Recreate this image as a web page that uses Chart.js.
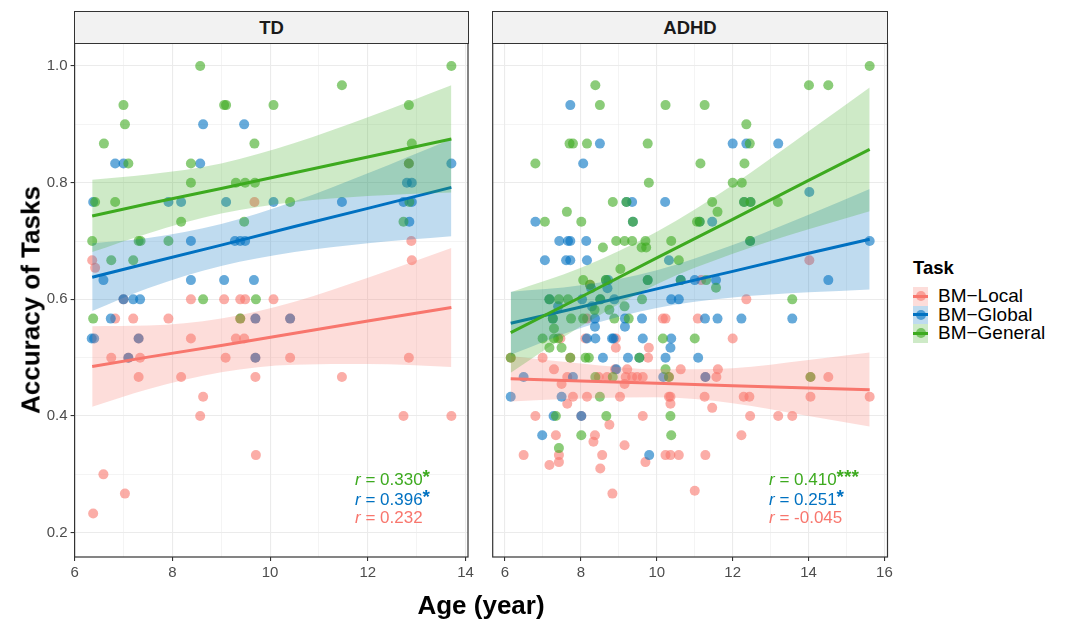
<!DOCTYPE html>
<html>
<head>
<meta charset="utf-8">
<script src="https://cdn.jsdelivr.net/npm/chart.js@4.4.1/dist/chart.umd.min.js"></script>
<style>
  body { margin: 0; width: 1065px; height: 622px; background: #fff; position: relative; overflow: hidden;
         font-family: "Liberation Sans", Arial, sans-serif; }
  canvas { position: absolute; top: 0; }
  .strip { position: absolute; top: 11px; height: 33px; background: #F2F2F2; border: 1px solid #333;
           box-sizing: border-box; text-align: center; font-weight: bold; font-size: 18.5px; line-height: 31px; color: #1A1A1A; }
  .ann { position: absolute; font-size: 17px; line-height: 19.5px; white-space: nowrap; }
  .ann span.st { position: relative; top: -2px; font-size: 19px; font-weight: bold; }
  .title { position: absolute; font-weight: bold; font-size: 26px; color: #000; white-space: nowrap; }
  .legend { position: absolute; left: 913px; top: 257px; }
  .legend .head { font-weight: bold; font-size: 18.5px; margin-bottom: 8px; }
  .legend .row { position: relative; height: 18.5px; }
  .legend .key { position: absolute; left: 0; top: 0; width: 15px; height: 18.5px; }
  .legend .key i { position: absolute; left: 0; right: 0; top: 7.75px; height: 3px; }
  .legend .key b { position: absolute; left: 2.5px; top: 4.25px; width: 10px; height: 10px; border-radius: 50%; }
  .legend .lab { position: absolute; left: 25px; top: -2px; font-size: 19px; line-height: 22px; white-space: nowrap; }
</style>
</head>
<body>
<canvas id="tdChart" width="480" height="622" style="left:0"></canvas>
<canvas id="adhdChart" width="418" height="622" style="left:482px"></canvas>

<div class="strip" style="left:74px;width:395px">TD</div>
<div class="strip" style="left:492px;width:396px">ADHD</div>

<div class="ann" style="left:355px;top:469px;color:#3DAA1F"><i>r</i> = 0.330<span class="st">*</span></div>
<div class="ann" style="left:355px;top:488.5px;color:#0071C1"><i>r</i> = 0.396<span class="st">*</span></div>
<div class="ann" style="left:355px;top:508px;color:#F8766D"><i>r</i> = 0.232</div>
<div class="ann" style="left:769px;top:469px;color:#3DAA1F"><i>r</i> = 0.410<span class="st">***</span></div>
<div class="ann" style="left:769px;top:488.5px;color:#0071C1"><i>r</i> = 0.251<span class="st">*</span></div>
<div class="ann" style="left:769px;top:508px;color:#F8766D"><i>r</i> = -0.045</div>

<div class="title" style="left:481px;top:605px;transform:translate(-50%,-50%)">Age (year)</div>
<div class="title" style="left:31px;top:300px;transform:translate(-50%,-50%) rotate(-90deg)">Accuracy of Tasks</div>

<div class="legend" id="legend"><div class="head">Task</div></div>

<script>
// ---- data ----
const taskNames = ['BM\u2212Local', 'BM\u2212Global', 'BM\u2212General'];
const xTicksTD = [6, 7, 8, 9, 10, 11, 12, 13, 14];
const xTicksADHD = [6, 7, 8, 9, 10, 11, 12, 13, 14, 15, 16];
const yTicks = [0.2, 0.3, 0.4, 0.5, 0.6, 0.7, 0.8, 0.9, 1.0];

// TD scatter [age, accuracy]
const tdLocal = [[6.36,0.667],[6.42,0.654],[7.0,0.6],[8.38,0.6],[9.06,0.6],[9.39,0.6],[9.49,0.6],[10.07,0.6],
  [6.83,0.567],[7.2,0.567],[7.92,0.567],[9.39,0.567],[9.7,0.567],[10.41,0.567],[7.31,0.533],[8.38,0.533],
  [9.3,0.533],[9.47,0.533],[6.75,0.5],[7.1,0.5],[7.34,0.5],[9.09,0.5],[9.7,0.5],[10.41,0.5],[12.84,0.5],
  [7.31,0.467],[8.18,0.467],[9.7,0.467],[11.47,0.467],[8.63,0.433],[8.57,0.4],[12.73,0.4],[13.71,0.4],
  [9.71,0.333],[6.59,0.3],[7.03,0.267],[6.38,0.233],[9.68,0.767],[12.84,0.833],[12.89,0.7],[12.9,0.667]];
const tdGlobal = [[8.63,0.9],[9.47,0.9],[6.83,0.833],[7.0,0.833],[8.57,0.833],[13.71,0.833],[12.8,0.8],[12.9,0.8],
  [6.38,0.767],[7.92,0.767],[8.18,0.767],[9.1,0.767],[10.07,0.767],[11.47,0.767],[12.73,0.767],[12.9,0.767],
  [12.85,0.733],[8.38,0.7],[9.28,0.7],[9.39,0.7],[9.49,0.7],[6.59,0.633],[8.38,0.633],[9.06,0.633],[9.67,0.633],
  [7.0,0.6],[7.2,0.6],[7.34,0.6],[6.74,0.567],[9.7,0.567],[10.41,0.567],[6.35,0.533],[6.4,0.533],[7.31,0.533],
  [7.1,0.5],[9.7,0.5]];
const tdGeneral = [[8.57,1.0],[13.71,1.0],[11.47,0.967],[7.0,0.933],[9.06,0.933],[9.1,0.933],[10.07,0.933],[12.84,0.933],
  [7.03,0.9],[6.6,0.867],[9.68,0.867],[12.9,0.867],[7.1,0.833],[8.38,0.833],[12.84,0.833],[8.38,0.8],[9.3,0.8],
  [9.49,0.8],[9.69,0.8],[6.42,0.767],[6.83,0.767],[10.41,0.767],[12.85,0.767],[8.18,0.733],[9.47,0.733],[12.73,0.733],
  [6.36,0.7],[7.31,0.7],[7.35,0.7],[7.92,0.7],[6.75,0.667],[7.2,0.667],[8.63,0.6],[9.71,0.6],[6.38,0.567],[9.39,0.567]];

// TD fits and 95% bands
const tdBandX = [6.36, 7.5, 9, 10.5, 12, 13.71];
const tdLocalFit = [0.485, 0.501, 0.521, 0.542, 0.563, 0.586];
const tdLocalLo = [0.416, 0.446, 0.475, 0.488, 0.489, 0.484];
const tdLocalHi = [0.554, 0.555, 0.567, 0.596, 0.637, 0.688];
const tdGlobalFit = [0.638, 0.662, 0.693, 0.725, 0.756, 0.792];
const tdGlobalLo = [0.580, 0.619, 0.657, 0.681, 0.696, 0.708];
const tdGlobalHi = [0.696, 0.705, 0.729, 0.768, 0.816, 0.875];
const tdGeneralFit = [0.743, 0.764, 0.790, 0.817, 0.844, 0.875];
const tdGeneralLo = [0.681, 0.713, 0.747, 0.767, 0.777, 0.783];
const tdGeneralHi = [0.805, 0.814, 0.833, 0.868, 0.912, 0.967];

// ADHD scatter [age, accuracy]
const adhdLocal = [[14.02,0.667],[11.17,0.633],[8.24,0.625],[12.36,0.6],[8.16,0.567],[10.16,0.567],[10.23,0.567],
  [11.08,0.567],[7.46,0.533],[8.12,0.533],[8.92,0.533],[12.0,0.533],[8.92,0.517],[9.79,0.517],[6.99,0.5],[9.77,0.5],
  [6.15,0.5],[7.72,0.5],[7.29,0.48],[8.9,0.48],[9.22,0.48],[10.63,0.48],[11.61,0.48],[7.64,0.467],[8.47,0.467],
  [8.69,0.467],[9.18,0.467],[9.35,0.467],[9.48,0.467],[9.63,0.467],[10.32,0.467],[11.28,0.467],[11.57,0.467],
  [14.05,0.467],[14.52,0.467],[7.49,0.455],[9.15,0.455],[7.79,0.433],[8.16,0.433],[9.03,0.433],[10.32,0.433],
  [10.36,0.433],[11.26,0.433],[12.29,0.433],[12.44,0.433],[14.05,0.433],[15.61,0.433],[7.64,0.421],[10.36,0.421],
  [11.46,0.414],[6.8,0.4],[8.01,0.4],[9.63,0.4],[12.46,0.4],[13.2,0.4],[13.57,0.4],[8.75,0.385],[7.34,0.367],
  [8.37,0.367],[12.23,0.367],[8.33,0.356],[9.15,0.35],[6.49,0.333],[7.42,0.333],[8.56,0.333],[10.23,0.333],
  [10.36,0.333],[10.58,0.333],[11.28,0.333],[7.42,0.321],[9.7,0.321],[7.17,0.316],[8.51,0.31],[11.0,0.272],[8.83,0.267]];
const adhdGlobal = [[7.72,0.933],[8.5,0.867],[12.0,0.867],[12.36,0.867],[13.2,0.867],[8.06,0.833],[14.02,0.784],
  [9.2,0.767],[9.35,0.767],[10.22,0.767],[12.3,0.767],[12.47,0.767],[6.8,0.733],[9.37,0.733],[11.13,0.733],
  [11.46,0.733],[7.43,0.7],[7.66,0.7],[7.72,0.7],[8.14,0.7],[12.46,0.7],[15.61,0.7],[7.05,0.667],[7.61,0.667],
  [7.72,0.667],[8.16,0.667],[10.32,0.667],[8.66,0.633],[8.72,0.633],[9.76,0.633],[10.63,0.633],[11.0,0.633],
  [11.56,0.633],[14.52,0.633],[8.27,0.619],[8.7,0.619],[7.17,0.6],[8.03,0.6],[8.51,0.6],[8.88,0.6],[10.38,0.6],
  [10.58,0.6],[7.4,0.588],[8.29,0.588],[7.26,0.567],[8.37,0.567],[9.16,0.567],[9.61,0.567],[11.27,0.567],
  [11.6,0.567],[12.23,0.567],[13.57,0.567],[8.37,0.553],[9.16,0.553],[8.16,0.533],[8.38,0.533],[8.82,0.533],
  [8.86,0.533],[9.63,0.533],[10.38,0.533],[10.36,0.517],[8.58,0.5],[9.24,0.5],[9.54,0.5],[10.23,0.5],[11.09,0.5],
  [8.93,0.48],[6.49,0.467],[7.79,0.467],[10.17,0.467],[11.28,0.467],[6.15,0.433],[7.49,0.433],[7.28,0.4],
  [8.01,0.4],[6.98,0.367],[9.8,0.333]];
const adhdGeneral = [[15.61,1.0],[8.38,0.967],[14.01,0.967],[14.52,0.967],[8.5,0.933],[10.23,0.933],[11.26,0.933],
  [12.36,0.9],[7.7,0.867],[7.79,0.867],[8.16,0.867],[9.76,0.867],[12.45,0.867],[6.8,0.833],[11.15,0.833],
  [12.31,0.833],[9.79,0.8],[12.0,0.8],[12.24,0.8],[8.84,0.767],[9.2,0.767],[11.46,0.767],[12.3,0.767],[12.47,0.767],
  [13.19,0.767],[7.63,0.75],[11.6,0.75],[7.05,0.733],[8.01,0.733],[9.37,0.733],[11.06,0.733],[11.13,0.733],
  [8.93,0.7],[9.15,0.7],[9.35,0.7],[9.7,0.7],[10.38,0.7],[12.46,0.7],[8.58,0.689],[9.6,0.689],[9.72,0.689],
  [10.58,0.667],[9.04,0.652],[8.06,0.633],[8.66,0.633],[9.76,0.633],[10.63,0.633],[11.3,0.633],[8.24,0.625],
  [11.56,0.62],[7.17,0.6],[7.42,0.6],[7.66,0.6],[8.51,0.6],[9.61,0.6],[13.57,0.6],[9.15,0.588],[8.36,0.582],
  [8.75,0.582],[7.26,0.567],[7.74,0.567],[8.06,0.567],[8.88,0.567],[9.26,0.567],[7.29,0.55],[6.99,0.533],
  [7.29,0.533],[7.4,0.533],[10.16,0.533],[11.0,0.533],[7.17,0.517],[7.49,0.517],[6.15,0.5],[7.72,0.5],[8.12,0.5],
  [8.21,0.5],[9.54,0.5],[10.23,0.48],[8.38,0.467],[8.84,0.467],[10.32,0.467],[14.05,0.467],[8.5,0.433],[7.34,0.4],
  [8.67,0.4],[10.36,0.4],[8.01,0.367],[10.38,0.367],[7.42,0.345]];

// ADHD fits and 95% bands
const adhdBandX = [6.15, 8, 10, 12, 14, 15.61];
const adhdLocalFit = [0.464, 0.460, 0.456, 0.452, 0.448, 0.445];
const adhdLocalLo = [0.425, 0.430, 0.432, 0.422, 0.400, 0.382];
const adhdLocalHi = [0.503, 0.490, 0.480, 0.482, 0.496, 0.509];
const adhdGlobalFit = [0.559, 0.587, 0.618, 0.648, 0.679, 0.703];
const adhdGlobalLo = [0.505, 0.551, 0.585, 0.603, 0.612, 0.617];
const adhdGlobalHi = [0.613, 0.624, 0.650, 0.693, 0.745, 0.789];
const adhdGeneralFit = [0.543, 0.604, 0.671, 0.737, 0.804, 0.857];
const adhdGeneralLo = [0.474, 0.554, 0.626, 0.678, 0.720, 0.751];
const adhdGeneralHi = [0.612, 0.654, 0.716, 0.796, 0.888, 0.963];

// ---- styling ----
const FONT = '"Liberation Sans", Arial, sans-serif';
const taskColors = ['#F8766D', '#0071C1', '#3DAA1F'];

function rgba(hex, a) {
  const n = parseInt(hex.slice(1), 16);
  return `rgba(${n >> 16},${(n >> 8) & 255},${n & 255},${a})`;
}
const toXY = arr => arr.map(p => ({ x: p[0], y: p[1] }));
const alongX = (xs, ys) => xs.map((x, i) => ({ x, y: ys[i] }));

function buildDatasets(points, bandX, fits) {
  const ds = [];
  points.forEach((pts, i) => {
    ds.push({ type: 'scatter', data: toXY(pts), backgroundColor: rgba(taskColors[i], 0.6),
      borderWidth: 0, pointRadius: 5, pointHoverRadius: 5, order: 102 - i });
  });
  fits.forEach((f, i) => {
    const base = 12 - i * 3;
    ds.push({ type: 'line', data: alongX(bandX, f.hi), fill: '+1', backgroundColor: rgba(taskColors[i], 0.25),
      borderWidth: 0, pointRadius: 0, cubicInterpolationMode: 'monotone', order: base });
    ds.push({ type: 'line', data: alongX(bandX, f.lo), fill: false, borderWidth: 0, pointRadius: 0,
      cubicInterpolationMode: 'monotone', order: base });
    ds.push({ type: 'line', data: alongX(bandX, f.fit), fill: false, borderColor: taskColors[i], borderWidth: 3,
      pointRadius: 0, order: base - 1 });
  });
  return ds;
}

const panelBorder = {
  id: 'panelBorder',
  afterDraw(chart) {
    const { ctx, chartArea: a } = chart;
    ctx.save();
    ctx.strokeStyle = '#333';
    ctx.lineWidth = 1.2;
    ctx.strokeRect(a.left, a.top, a.right - a.left, a.bottom - a.top);
    ctx.restore();
  }
};

const isMajorX = v => Math.round(v) % 2 === 0;
const isMajorY = v => Math.round(v * 10) % 2 === 0;

function makeOptions(xmin, xmax, xticks, showY, padding) {
  return {
    responsive: false, animation: false, devicePixelRatio: 1,
    layout: { padding },
    plugins: { legend: { display: false }, tooltip: { enabled: false } },
    scales: {
      x: {
        type: 'linear', min: xmin, max: xmax,
        afterBuildTicks: s => { s.ticks = xticks.map(v => ({ value: v })); },
        afterFit: s => { s.height = 65; },
        border: { display: false },
        grid: {
          color: '#EBEBEB', tickLength: 4,
          lineWidth: c => (c.tick && isMajorX(c.tick.value)) ? 1.1 : 0.55,
          tickColor: c => (c.tick && isMajorX(c.tick.value)) ? '#333' : 'rgba(0,0,0,0)'
        },
        ticks: { color: '#4D4D4D', font: { family: FONT, size: 15 }, padding: 3, autoSkip: false, maxRotation: 0,
          callback: v => isMajorX(v) ? String(v) : '' }
      },
      y: {
        type: 'linear', min: 0.1583, max: 1.0395,
        afterBuildTicks: s => { s.ticks = yTicks.map(v => ({ value: v })); },
        afterFit: s => { s.width = showY ? 74.6 : 0; },
        border: { display: false },
        grid: {
          color: '#EBEBEB', tickLength: 4, drawTicks: showY,
          lineWidth: c => (c.tick && isMajorY(c.tick.value)) ? 1.1 : 0.55,
          tickColor: c => (c.tick && isMajorY(c.tick.value)) ? '#333' : 'rgba(0,0,0,0)'
        },
        ticks: { display: showY, color: '#4D4D4D', font: { family: FONT, size: 15 }, padding: 3, autoSkip: false,
          callback: v => isMajorY(v) ? v.toFixed(1) : '' }
      }
    }
  };
}

new Chart(document.getElementById('tdChart'), {
  type: 'scatter',
  data: { datasets: buildDatasets([tdLocal, tdGlobal, tdGeneral], tdBandX, [
    { fit: tdLocalFit, lo: tdLocalLo, hi: tdLocalHi },
    { fit: tdGlobalFit, lo: tdGlobalLo, hi: tdGlobalHi },
    { fit: tdGeneralFit, lo: tdGeneralLo, hi: tdGeneralHi }]) },
  options: makeOptions(6.0, 14.05, xTicksTD, true, { top: 43, right: 12, bottom: 0, left: 0 }),
  plugins: [panelBorder]
});

new Chart(document.getElementById('adhdChart'), {
  type: 'scatter',
  data: { datasets: buildDatasets([adhdLocal, adhdGlobal, adhdGeneral], adhdBandX, [
    { fit: adhdLocalFit, lo: adhdLocalLo, hi: adhdLocalHi },
    { fit: adhdGlobalFit, lo: adhdGlobalLo, hi: adhdGlobalHi },
    { fit: adhdGeneralFit, lo: adhdGeneralLo, hi: adhdGeneralHi }]) },
  options: makeOptions(5.675, 16.08, xTicksADHD, false, { top: 43, right: 12.5, bottom: 0, left: 10.7 }),
  plugins: [panelBorder]
});

// legend (HTML)
const legend = document.getElementById('legend');
taskNames.forEach((name, i) => {
  const row = document.createElement('div');
  row.className = 'row';
  row.innerHTML = `<div class="key" style="background:${rgba(taskColors[i], 0.25)}">` +
    `<i style="background:${taskColors[i]}"></i><b style="background:${rgba(taskColors[i], 0.6)}"></b></div>` +
    `<div class="lab">${name}</div>`;
  legend.appendChild(row);
});
</script>
</body>
</html>
